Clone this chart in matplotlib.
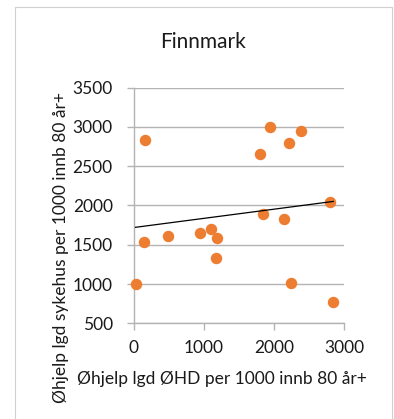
import numpy as np
import matplotlib
matplotlib.use("Agg")
import matplotlib.pyplot as plt
from matplotlib.patches import Rectangle

# Øhjelp innleggelser per 1000 innbyggere 80 år+, Finnmark-kommuner
ohd = [28, 166, 147, 485, 941, 1103, 1184, 1179, 1802, 1845,
       1949, 2215, 2387, 2139, 2249, 2796, 2848]
sykehus = [1000, 2834, 1534, 1615, 1653, 1700, 1590, 1335, 2651, 1895,
           3000, 2800, 2948, 1823, 1012, 2040, 770]

x_ticks = [0, 1000, 2000, 3000]
y_ticks = [500, 1000, 1500, 2000, 2500, 3000, 3500]

plt.rcParams["font.family"] = ["Lato", "DejaVu Sans"]
GRID = "#b3b3b3"
ORANGE = "#ed7d31"
TEXT = "#1a1a1a"

fig = plt.figure(figsize=(3.94, 4.19), dpi=100)
fig.patches.append(Rectangle((15 / 394, -0.05), 377 / 394, 1 - 7 / 419 + 0.05,
                             transform=fig.transFigure, fill=False,
                             edgecolor="#d0d0d0", linewidth=0.8))

ax = fig.add_axes([0.339, 0.2284, 0.534, 0.5623])
ax.set_xlim(0, 3000)
ax.set_ylim(500, 3500)
ax.set_xticks(x_ticks)
ax.set_yticks(y_ticks)

ax.yaxis.grid(True, color=GRID, linewidth=1.0)
ax.set_axisbelow(True)
for side in ("top", "right"):
    ax.spines[side].set_visible(False)
for side in ("left", "bottom"):
    ax.spines[side].set_color(GRID)
    ax.spines[side].set_linewidth(1.0)
ax.tick_params(axis="both", color=GRID, width=1.0, length=5, labelsize=12.5,
               labelcolor=TEXT)
ax.tick_params(axis="y", pad=10)
ax.tick_params(axis="x", pad=7)

ax.scatter(ohd, sykehus, s=68, color=ORANGE, zorder=3, clip_on=False,
           linewidths=0)

# lineær trendlinje
k, m = np.polyfit(ohd, sykehus, 1)
xs = np.array([min(ohd), max(ohd)])
ax.plot(xs, k * xs + m, color="black", linewidth=0.9, zorder=4)

fig.text(222 / 394, 1 - 379 / 419, "Øhjelp lgd ØHD per 1000 innb 80 år+",
         fontsize=12.5, ha="center", va="center", color=TEXT)
fig.text(61 / 394, 1 - 247 / 419, "Øhjelp lgd sykehus per 1000 innb 80 år+",
         fontsize=12.5, ha="center", va="center", rotation=90, color=TEXT)
fig.text(203 / 394, 1 - 42 / 419, "Finnmark", fontsize=15, ha="center",
         va="center", color=TEXT)

fig.savefig("out.png", dpi=100)
